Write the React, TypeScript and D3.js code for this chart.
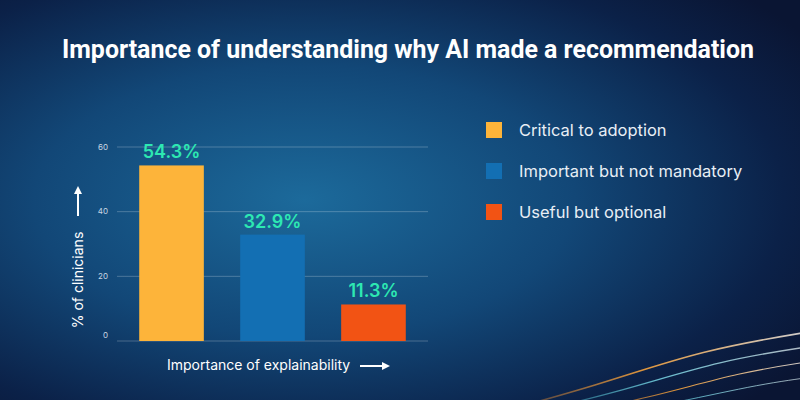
import React from 'react';
import * as d3 from 'd3';

const categories = ['Critical to adoption', 'Important but not mandatory', 'Useful but optional'];
const values = [54.3, 32.9, 11.3];
const colors = ['#fdb43a', '#136fb3', '#f25314'];
const yTicks = [0, 20, 40, 60];

const W = 800;
const H = 400;

export default function App() {
  const x = d3.scaleBand<string>()
    .domain(categories)
    .range([117, 428])
    .paddingInner(0.36)
    .paddingOuter(0.22);

  const y = d3.scaleLinear()
    .domain([0, 60])
    .range([341, 147]);

  // decorative waves bottom right
  const wave = d3.line<[number, number]>().curve(d3.curveBasis);
  const waves = [
    { pts: [[470, 420], [600, 385], [700, 350], [820, 330]], c: 'url(#waveA)', w: 1.6 },
    { pts: [[500, 420], [620, 392], [720, 360], [820, 345]], c: 'url(#waveB)', w: 1.3 },
    { pts: [[540, 420], [650, 398], [740, 372], [820, 360]], c: 'url(#waveA)', w: 1.1 },
    { pts: [[580, 420], [680, 402], [760, 384], [820, 376]], c: 'url(#waveB)', w: 0.9 },
  ] as { pts: [number, number][]; c: string; w: number }[];

  const font = "Inter, 'Open Sans', sans-serif";

  return (
    <svg width={W} height={H} style={{ position: 'absolute', left: 0, top: 0 }}
      fontFamily={font}>
      <defs>
        <radialGradient id="bg" cx="0.38" cy="0.5" r="0.75">
          <stop offset="0" stopColor="#1c6a9b" />
          <stop offset="0.45" stopColor="#124777" />
          <stop offset="0.8" stopColor="#0b2148" />
          <stop offset="1" stopColor="#0a1533" />
        </radialGradient>
        <linearGradient id="waveA" x1="0" x2="1" y1="0" y2="0">
          <stop offset="0" stopColor="#f28a2a" stopOpacity="0" />
          <stop offset="0.5" stopColor="#f6a33c" stopOpacity="0.9" />
          <stop offset="1" stopColor="#ffffff" stopOpacity="0.8" />
        </linearGradient>
        <linearGradient id="waveB" x1="0" x2="1" y1="0" y2="0">
          <stop offset="0" stopColor="#3fd6e0" stopOpacity="0" />
          <stop offset="0.5" stopColor="#7fe3f0" stopOpacity="0.8" />
          <stop offset="1" stopColor="#ffffff" stopOpacity="0.7" />
        </linearGradient>
        <marker id="arrow" viewBox="0 0 10 10" refX="5" refY="5" markerWidth="4" markerHeight="4" orient="auto">
          <path d="M0,0 L10,5 L0,10 z" fill="#ffffff" />
        </marker>
      </defs>

      <rect width={W} height={H} fill="url(#bg)" />

      {waves.map((wv, i) => (
        <path key={i} d={wave(wv.pts) || ''} fill="none" stroke={wv.c} strokeWidth={wv.w} />
      ))}

      <text x={408} y={58} textAnchor="middle" fill="#ffffff" fontSize={25} fontWeight={700}
        fontFamily="Roboto, sans-serif" textLength={692} lengthAdjust="spacingAndGlyphs">
        Importance of understanding why AI made a recommendation
      </text>

      {/* grid */}
      {yTicks.map(t => (
        <g key={t}>
          <line x1={117} x2={428} y1={y(t)} y2={y(t)} stroke="#ffffff" strokeOpacity={0.3} strokeWidth={0.8} />
          <text x={108} y={t === 0 ? y(t) - 6 : y(t)} dy="0.35em" textAnchor="end" fill="#c9d6e3" fontSize={8}>{t}</text>
        </g>
      ))}

      {/* bars */}
      {categories.map((c, i) => (
        <g key={c}>
          <rect x={x(c)} y={y(values[i])} width={x.bandwidth()} height={y(0) - y(values[i])} fill={colors[i]} />
          <text x={(x(c) || 0) + x.bandwidth() / 2} y={y(values[i]) - 7} textAnchor="middle"
            fill="#2de8b2" fontSize={18} fontWeight={600}>
            {values[i].toFixed(1)}%
          </text>
        </g>
      ))}

      {/* y title */}
      <text transform="translate(83, 280) rotate(-90)" textAnchor="middle" fill="#ffffff" fontSize={14}>
        % of clinicians
      </text>
      <line x1={78} x2={78} y1={216} y2={190} stroke="#ffffff" strokeWidth={2} markerEnd="url(#arrow)" />

      {/* x title */}
      <text x={167} y={370} fill="#ffffff" fontSize={14}>Importance of explainability</text>
      <line x1={360} x2={386} y1={366} y2={366} stroke="#ffffff" strokeWidth={2} markerEnd="url(#arrow)" />

      {/* legend */}
      {categories.map((c, i) => (
        <g key={c} transform={`translate(486, ${130 + i * 41})`}>
          <rect x={0} y={-8} width={16} height={16} fill={colors[i]} />
          <text x={33} y={0} dy="0.35em" fill="#e8eef5" fontSize={16.5}>{c}</text>
        </g>
      ))}
    </svg>
  );
}
